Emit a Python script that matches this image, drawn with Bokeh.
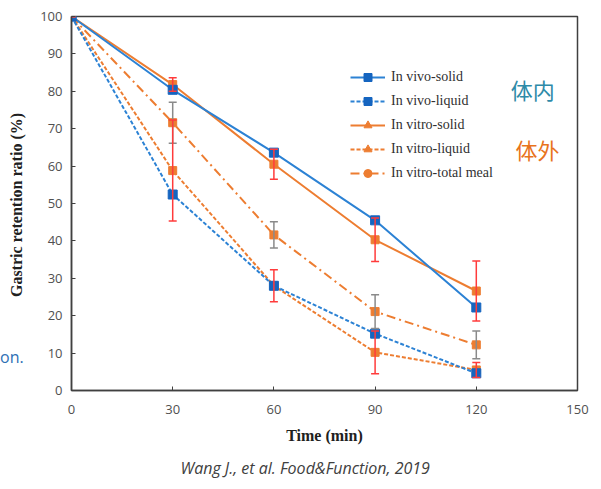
from bokeh.plotting import figure
from bokeh.models import Range1d, FixedTicker, Whisker, ColumnDataSource, Label, Legend, LegendItem, TeeHead, Title, Div
from bokeh.layouts import row
from bokeh.embed import file_html
from bokeh.resources import INLINE

time = [0, 30, 60, 90, 120]
vivo_solid = [100, 80.4, 63.6, 45.5, 22.2]
vivo_liquid = [100, 52.4, 28.0, 15.2, 4.6]
vitro_solid = [100, 81.8, 60.5, 40.3, 26.6]
vitro_solid_err = [0, 1.8, 4.0, 5.8, 8.0]
vitro_liquid = [100, 58.8, 28.0, 10.2, 5.5]
vitro_liquid_err = [0, 13.5, 4.3, 5.7, 2.0]
vitro_total = [100, 71.6, 41.6, 21.1, 12.2]
vitro_total_err = [0, 5.5, 3.5, 4.5, 3.7]
x_ticks = [0, 30, 60, 90, 120, 150]
y_ticks = [0, 10, 20, 30, 40, 50, 60, 70, 80, 90, 100]
series_names = ["In vivo-solid", "In vivo-liquid", "In vitro-solid", "In vitro-liquid", "In vitro-total meal"]
y_title = "Gastric retention ratio (%)"
x_title = "Time (min)"
citation = "Wang J., et al. Food&Function, 2019"

BLUE = "#2c82d4"
BLUE_M = "#1565c0"
ORANGE = "#ed7d31"
RED = "#ff3b3b"
GRAY = "#8a8a8a"
AXC = "#404040"

LEFT_W = 36
TOTAL_H = 489

side_html = (
    f'<div style="position:relative;width:{LEFT_W}px;height:{TOTAL_H}px;margin:0;padding:0;">'
    '<div style="position:absolute;left:17px;top:205px;transform:translate(-50%,-50%) rotate(-90deg);'
    'white-space:nowrap;font-family:\'Liberation Serif\';font-weight:bold;font-size:16px;color:#202020;line-height:1;">'
    f'{y_title}</div>'
    '<div style="position:absolute;left:0px;top:357px;transform:translateY(-50%);white-space:nowrap;'
    'font-family:\'Open Sans\';font-size:16px;color:#2e6fb5;line-height:1;">on.</div>'
    '</div>'
)
side = Div(text=side_html, width=LEFT_W, height=TOTAL_H, margin=0)

p = figure(width=593 - LEFT_W, height=TOTAL_H, output_backend="svg", toolbar_location=None,
           x_range=Range1d(0, 150), y_range=Range1d(0, 100),
           min_border_left=71 - LEFT_W, min_border_right=16, min_border_top=16,
           min_border_bottom=TOTAL_H - 390)
p.xgrid.visible = False
p.ygrid.visible = False
p.outline_line_color = AXC
p.outline_line_width = 1.5

for ax in (p.xaxis[0], p.yaxis[0]):
    ax.axis_line_color = AXC
    ax.axis_line_width = 1.5
    ax.major_tick_in = 4
    ax.major_tick_out = 0
    ax.major_tick_line_color = AXC
    ax.minor_tick_line_color = None
    ax.major_label_text_font = "Open Sans"
    ax.major_label_text_font_size = "13px"
    ax.major_label_text_color = "#505050"
    ax.axis_label_text_font = "Liberation Serif"
    ax.axis_label_text_font_style = "bold"
    ax.axis_label_text_font_size = "16px"
    ax.axis_label_text_color = "#202020"

p.xaxis.ticker = FixedTicker(ticks=x_ticks)
p.yaxis.ticker = FixedTicker(ticks=y_ticks)
p.xaxis.axis_label = x_title
p.xaxis.major_label_standoff = 14
p.yaxis.major_label_standoff = 9
p.xaxis.axis_label_standoff = 10

src = ColumnDataSource(dict(t=time,
                            vs=vivo_solid, vl=vivo_liquid,
                            ts=vitro_solid, tl=vitro_liquid, tt=vitro_total,
                            ts_lo=[a - b for a, b in zip(vitro_solid, vitro_solid_err)],
                            ts_hi=[a + b for a, b in zip(vitro_solid, vitro_solid_err)],
                            tl_lo=[a - b for a, b in zip(vitro_liquid, vitro_liquid_err)],
                            tl_hi=[a + b for a, b in zip(vitro_liquid, vitro_liquid_err)],
                            tt_lo=[a - b for a, b in zip(vitro_total, vitro_total_err)],
                            tt_hi=[a + b for a, b in zip(vitro_total, vitro_total_err)]))

def whisk(lo, hi, color):
    w = Whisker(source=src, base="t", lower=lo, upper=hi, line_color=color, line_width=1.5,
                upper_head=TeeHead(size=8, line_color=color, line_width=1.5),
                lower_head=TeeHead(size=8, line_color=color, line_width=1.5), level="glyph")
    p.add_layout(w)

whisk("tt_lo", "tt_hi", GRAY)
whisk("ts_lo", "ts_hi", RED)
whisk("tl_lo", "tl_hi", RED)

# lines
p.line("t", "tt", source=src, color=ORANGE, line_width=2, line_dash="9 4 2 4")
p.line("t", "tl", source=src, color=ORANGE, line_width=2, line_dash="4 2")
p.line("t", "vl", source=src, color=BLUE, line_width=2, line_dash="4 2")
p.line("t", "ts", source=src, color=ORANGE, line_width=2)
p.line("t", "vs", source=src, color=BLUE, line_width=2)
# markers
p.scatter("t", "tt", source=src, marker="square", size=8, color=ORANGE)
p.scatter("t", "tl", source=src, marker="square", size=8, color=ORANGE)
p.scatter("t", "ts", source=src, marker="square", size=8, color=ORANGE)
p.scatter("t", "vl", source=src, marker="square", size=9, color=BLUE_M)
p.scatter("t", "vs", source=src, marker="square", size=9, color=BLUE_M)

# legend-only renderers (placed far outside the visible range)
leg_specs = [
    (BLUE, "solid", "square", BLUE_M, 8),
    (BLUE, "4 2", "square", BLUE_M, 8),
    (ORANGE, "solid", "triangle", ORANGE, 8),
    (ORANGE, "4 2", "triangle", ORANGE, 8),
    (ORANGE, "9 4 2 4", "circle", ORANGE, 7),
]
items = []
for name, (lc, dash, mk, mc, ms) in zip(series_names, leg_specs):
    r1 = p.line(x=[-1000, -999], y=[-1000, -999], color=lc, line_width=2, line_dash=dash)
    r2 = p.scatter(x=[-1000], y=[-1000], marker=mk, size=ms, color=mc)
    items.append(LegendItem(label=name, renderers=[r1, r2]))
leg = Legend(items=items, location=(279, 207), border_line_color=None, background_fill_alpha=0,
             padding=0, margin=0, spacing=4, label_height=20, glyph_height=20, glyph_width=35,
             label_text_font="Liberation Serif", label_text_font_size="14px", label_text_color="#303030",
             label_standoff=6)
p.add_layout(leg)

p.add_layout(Label(x=130.2, y=80.7, text="体内", text_font="Noto Sans CJK SC", text_font_size="22px",
                   text_color="#2e8aa8", text_baseline="middle", text_align="left"))
p.add_layout(Label(x=131.6, y=64.7, text="体外", text_font="Noto Sans CJK SC", text_font_size="22px",
                   text_color="#e8731c", text_baseline="middle", text_align="left"))

p.add_layout(Title(text=citation, align="left", offset=109, standoff=16,
                   text_font="Open Sans", text_font_style="italic", text_font_size="16px",
                   text_color="#404040"), "below")

layout = row(side, p, spacing=0)
open("out.html", "w").write(file_html(layout, INLINE))
